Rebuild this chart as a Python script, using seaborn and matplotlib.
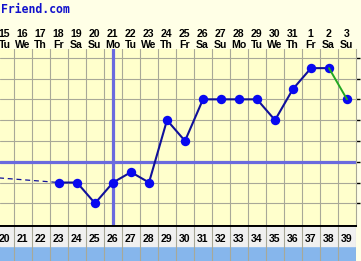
import matplotlib
matplotlib.use("Agg")
import matplotlib.pyplot as plt
import seaborn as sns
import pandas as pd
import numpy as np

# ---- data ----
cycle_days = list(range(20, 40))
dates = ["15", "16", "17", "18", "19", "20", "21", "22", "23", "24", "25",
         "26", "27", "28", "29", "30", "31", "1", "2", "3"]
weekdays = ["Tu", "We", "Th", "Fr", "Sa", "Su", "Mo", "Tu", "We", "Th", "Fr",
            "Sa", "Su", "Mo", "Tu", "We", "Th", "Fr", "Sa", "Su"]
temp_days = list(range(23, 40))
temps = [97.4, 97.4, 97.2, 97.4, 97.5, 97.4, 98.0, 97.8, 98.2, 98.2, 98.2,
         98.2, 98.0, 98.3, 98.5, 98.5, 98.2]
prev_day = 8
prev_temp = 97.6
coverline = 97.6
ovulation_day = 26
grid_temps = [97.2, 97.4, 97.6, 97.8, 98.0, 98.2, 98.4, 98.6]

# ---- style ----
HEADER_BG = "#FFFFE6"
PLOT_BG = "#FFFFCC"
GRID = "#A8A898"
DOT = "#0808F0"
LINE = "#10109A"
COVER = "#6A6ADE"
GREEN = "#22A822"

sns.set_style("white")
plt.rcParams["font.family"] = ["Liberation Sans", "DejaVu Sans"]

W, H = 361, 261
fig = plt.figure(figsize=(W / 100, H / 100), dpi=100, facecolor=HEADER_BG)


def px_rect(x0, y0, x1, y1):
    return [x0 / W, 1 - y1 / H, (x1 - x0) / W, (y1 - y0) / H]


ax = fig.add_axes(px_rect(0, 49, 356, 226))
bx = fig.add_axes(px_rect(0, 226, 356, 261))

xlim = (20 - 5 / 18, 39.5)
ax.set_xlim(*xlim)
ax.set_ylim(96.982, 98.684)
ax.set_facecolor(PLOT_BG)

# grid
for d in np.arange(20.5, 39.5, 1.0):
    ax.axvline(d, color=GRID, lw=0.8, zorder=1)
for t in grid_temps:
    ax.axhline(t, color=GRID, lw=0.8, zorder=1)

# coverline and ovulation line
ax.axhline(coverline, color=COVER, lw=2.3, zorder=2)
ax.axvline(ovulation_day, color=COVER, lw=2.3, zorder=2)

df = pd.DataFrame({"day": temp_days, "temp": temps})
main = df[df["day"] <= 38]
last = df[df["day"] >= 38]

# dashed connection from earlier point
dash_df = pd.DataFrame({"day": [prev_day, temp_days[0]], "temp": [prev_temp, temps[0]]})
sns.lineplot(data=dash_df, x="day", y="temp", ax=ax, color=LINE, lw=0.9,
             linestyle=(0, (4, 3)), zorder=3)

sns.lineplot(data=main, x="day", y="temp", ax=ax, color=LINE, lw=1.5, zorder=3)
sns.scatterplot(data=df, x="day", y="temp", ax=ax, color=DOT, s=46,
                edgecolor=DOT, linewidth=0, zorder=4)
sns.lineplot(data=last, x="day", y="temp", ax=ax, color=GREEN, lw=1.4, zorder=5)

ax.set_xlim(*xlim)
ax.set_ylim(96.982, 98.684)
ax.set_xlabel("")
ax.set_ylabel("")
ax.set_xticks([])
ax.set_yticks(grid_temps)
ax.tick_params(axis="y", left=False, right=True, labelleft=False, labelright=False,
               length=3, width=1, color="black", direction="out")
for s in ["left", "top"]:
    ax.spines[s].set_visible(False)
ax.spines["right"].set_color(GRID)
ax.spines["right"].set_linewidth(0.8)
ax.spines["bottom"].set_color("black")
ax.spines["bottom"].set_linewidth(1.4)

# header text
for d, num, wd in zip(cycle_days, dates, weekdays):
    ax.text(d - 0.03, (226 - 36.7) / 177, num, ha="center", va="baseline",
            fontsize=7.6, fontweight="bold", color="black", clip_on=False,
            transform=ax.get_xaxis_transform())
    ax.text(d - 0.03, (226 - 48.3) / 177, wd, ha="center", va="baseline",
            fontsize=7.6, fontweight="bold", color="black", clip_on=False,
            transform=ax.get_xaxis_transform())

fig.text(1 / W, 1 - 13 / H, "Friend.com", ha="left", va="baseline",
         fontsize=8.3, fontweight="bold", color="#1010CC",
         family=["DejaVu Sans Mono"])

# bottom rows
bx.set_xlim(*xlim)
bx.set_ylim(0, 35)
bx.axhspan(0, 15, color="#86B6EC", zorder=0)
bx.axhspan(15, 35, color="#F0F0F0", zorder=0)
for d in np.arange(20.5, 40.0, 1.0):
    bx.axvline(d, color=GRID, lw=0.8, zorder=1)
for d in cycle_days:
    bx.text(d - 0.03, 19, str(d), ha="center", va="baseline", fontsize=7.6,
            fontweight="bold", color="black", zorder=2)
bx.set_xticks([])
bx.set_yticks([])
for s in ["left", "right", "bottom"]:
    bx.spines[s].set_visible(False)
bx.spines["top"].set_color("black")
bx.spines["top"].set_linewidth(1.4)

fig.savefig("out.png", dpi=100, facecolor=HEADER_BG)
